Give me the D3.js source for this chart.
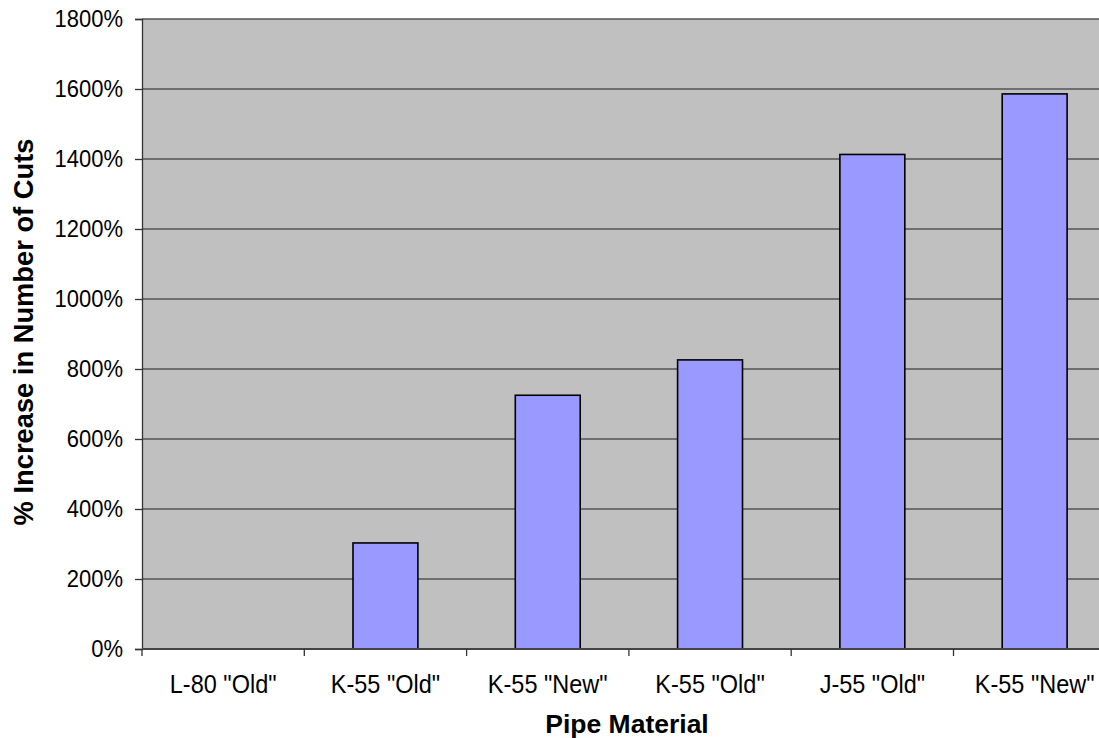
<!DOCTYPE html>
<html>
<head>
<meta charset="utf-8">
<script src="https://cdn.jsdelivr.net/npm/d3@7"></script>
<style>
  html, body { margin: 0; padding: 0; background: #fff; }
  svg { display: block; font-family: "Liberation Sans", Arial, sans-serif; }
</style>
</head>
<body>
<svg id="chart" width="1099" height="738"></svg>
<script>
// Pipe materials and the % increase in number of cuts for each
const categories = ['L-80 "Old"', 'K-55 "Old"', 'K-55 "New"', 'K-55 "Old"', 'J-55 "Old"', 'K-55 "New"'];
const values = [0, 303, 725, 826, 1413, 1586];
const yTicks = [0, 200, 400, 600, 800, 1000, 1200, 1400, 1600, 1800];

const svg = d3.select("#chart");
const W = 1099, H = 738;
const margin = { left: 142, top: 19, bottom: 89 };
const bandW = 162.3;
const plotRight = margin.left + bandW * categories.length;
const plotBottom = H - margin.bottom;
const FONT = "Liberation Sans, Arial, sans-serif";
const TALL = 1.12; // tick labels are drawn slightly tall

const x = d3.scaleBand()
  .domain(d3.range(categories.length))
  .range([margin.left, plotRight])
  .paddingInner(0.6)
  .paddingOuter(0.3);

const y = d3.scaleLinear().domain([0, 1800]).range([plotBottom, margin.top]);

svg.append("clipPath").attr("id", "clip")
  .append("rect").attr("x", 0).attr("y", 0).attr("width", W).attr("height", H);

const g = svg.append("g").attr("clip-path", "url(#clip)");

// plot background
g.append("rect")
  .attr("x", margin.left).attr("y", margin.top)
  .attr("width", plotRight - margin.left).attr("height", plotBottom - margin.top)
  .attr("fill", "#c0c0c0");

// horizontal gridlines
g.selectAll("line.grid").data(yTicks.filter(d => d > 0)).join("line")
  .attr("class", "grid")
  .attr("x1", margin.left).attr("x2", plotRight)
  .attr("y1", d => y(d)).attr("y2", d => y(d))
  .attr("stroke", "#555").attr("stroke-width", 1.3);

// bars
g.selectAll("rect.bar").data(values.map((v, i) => ({ v, i })).filter(d => d.v > 0)).join("rect")
  .attr("class", "bar")
  .attr("x", d => x(d.i))
  .attr("width", x.bandwidth())
  .attr("y", d => y(d.v))
  .attr("height", d => y(0) - y(d.v))
  .attr("fill", "#9999ff")
  .attr("stroke", "#000")
  .attr("stroke-width", 1.6);

// y axis
const yAxis = d3.axisLeft(y).tickValues(yTicks).tickFormat(d => d + "%").tickSize(7).tickPadding(12);
const yg = svg.append("g").attr("transform", `translate(${margin.left},0)`).call(yAxis)
  .attr("font-size", 22).attr("font-family", FONT);
yg.select(".domain").attr("stroke", "#333").attr("stroke-width", 1.3);
yg.selectAll(".tick line").attr("stroke", "#333").attr("stroke-width", 1.3);
yg.selectAll(".tick text").attr("fill", "#000").attr("transform", `scale(1,${TALL})`);

// x axis: ticks at category boundaries
const boundaries = d3.range(categories.length + 1).map(i => margin.left + i * bandW);
const xg = svg.append("g").attr("clip-path", "url(#clip)");
xg.append("line")
  .attr("x1", margin.left).attr("x2", plotRight)
  .attr("y1", plotBottom).attr("y2", plotBottom)
  .attr("stroke", "#444").attr("stroke-width", 2);
xg.selectAll("line.xt").data(boundaries).join("line")
  .attr("class", "xt")
  .attr("x1", d => d).attr("x2", d => d)
  .attr("y1", plotBottom).attr("y2", plotBottom + 7)
  .attr("stroke", "#333").attr("stroke-width", 1.3);
xg.selectAll("text.xl").data(categories).join("text")
  .attr("class", "xl")
  .attr("transform", (d, i) => `translate(${x(i) + x.bandwidth() / 2},${plotBottom + 44}) scale(1,${TALL})`)
  .attr("text-anchor", "middle")
  .attr("font-size", 23.5)
  .text(d => d);

// axis titles
svg.append("text")
  .attr("x", 627).attr("y", 733)
  .attr("text-anchor", "middle")
  .attr("font-size", 26.5).attr("font-weight", "bold")
  .text("Pipe Material");

svg.append("text")
  .attr("transform", `translate(33,332) rotate(-90)`)
  .attr("text-anchor", "middle")
  .attr("font-size", 27.3).attr("font-weight", "bold")
  .text("% Increase in Number of Cuts");
</script>
</body>
</html>
